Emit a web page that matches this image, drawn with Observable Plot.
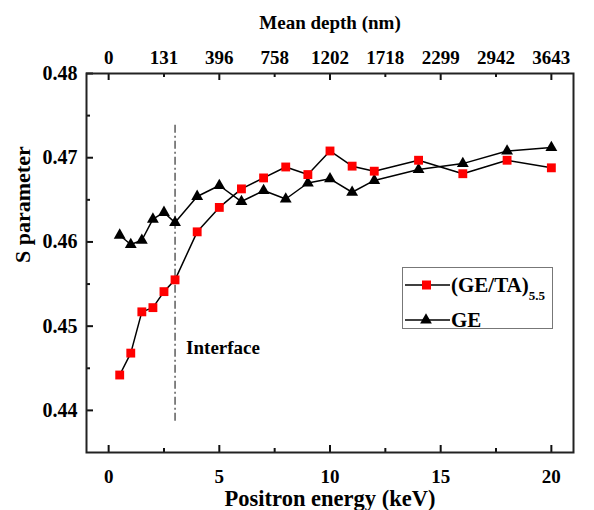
<!DOCTYPE html>
<html><head><meta charset="utf-8">
<script src="https://cdn.jsdelivr.net/npm/d3@7"></script>
<script src="https://cdn.jsdelivr.net/npm/@observablehq/plot@0.6"></script>
<style>
body{margin:0;background:#fff;}
#wrap{position:relative;width:594px;height:510px;overflow:hidden;}
#legend{position:absolute;left:402px;top:267px;overflow:visible;}
</style></head>
<body><div id="wrap"></div>
<script>
const energy = [0.5, 1, 1.5, 2, 2.5, 3, 4, 5, 6, 7, 8, 9, 10, 11, 12, 14, 16, 18, 20];
const sGETA = [0.4442, 0.4468, 0.4517, 0.4522, 0.4541, 0.4555, 0.4612, 0.4641, 0.4663, 0.4676, 0.4689, 0.4680, 0.4708, 0.4690, 0.4684, 0.4697, 0.4681, 0.4697, 0.4688];
const sGE   = [0.4608, 0.4597, 0.4602, 0.4627, 0.4635, 0.4623, 0.4654, 0.4667, 0.4648, 0.4661, 0.4651, 0.4670, 0.4675, 0.4659, 0.4673, 0.4686, 0.4693, 0.4708, 0.4712];
const seriesNames = ["(GE/TA)", "GE"];
const seriesSub = "5.5";
const xMajor = [0, 5, 10, 15, 20];
const xMinor = [2.5, 7.5, 12.5, 17.5];
const depthPos = [0, 2.5, 5, 7.5, 10, 12.5, 15, 17.5, 20];
const depthLabels = ["0", "131", "396", "758", "1202", "1718", "2299", "2942", "3643"];
const yMajor = [0.44, 0.45, 0.46, 0.47, 0.48];
const yMinor = [0.445, 0.455, 0.465, 0.475];
const interfaceLine = [{e: 3, s1: 0.4387, s2: 0.4740}];
const interfaceLabel = [{e: 3.5, s: 0.4474, text: "Interface"}];

const W = 594, H = 510, ML = 86, MR = 21, MT = 73, MB = 58;
const FW = W - ML - MR, FH = H - MT - MB;
const xDom = [-1, 21], yDom = [0.435, 0.48];
const font = "'Liberation Serif', 'Times New Roman', serif";
const d1 = energy.map((e, i) => ({e, s: sGETA[i]}));
const d2 = energy.map((e, i) => ({e, s: sGE[i]}));
// tick lengths (px) converted to data units so the rules pass through the scales
const yPx = px => px * (yDom[1] - yDom[0]) / FH;
const xPx = px => px * (xDom[1] - xDom[0]) / FW;
const tk = {stroke: "#111", strokeWidth: 2};

const chart = Plot.plot({
  width: W, height: H,
  marginLeft: ML, marginRight: MR, marginTop: MT, marginBottom: MB,
  style: {fontFamily: font, fontWeight: "bold", background: "#fff", color: "#000"},
  x: {domain: xDom},
  y: {domain: yDom},
  marks: [
    Plot.ruleX(interfaceLine, {x: "e", y1: "s1", y2: "s2", stroke: "#333", strokeWidth: 1.2, strokeDasharray: "8,3,2,3"}),
    Plot.line(d2, {x: "e", y: "s", stroke: "#000", strokeWidth: 1.5}),
    Plot.line(d1, {x: "e", y: "s", stroke: "#000", strokeWidth: 1.5}),
    Plot.dot(d2, {x: "e", y: "s", symbol: "triangle", r: 4.4, fill: "#000", stroke: "none"}),
    Plot.dot(d1, {x: "e", y: "s", symbol: "square", r: 5, fill: "#f00", stroke: "none"}),
    Plot.text(interfaceLabel, {x: "e", y: "s", text: "text", textAnchor: "start", fontSize: 19, fill: "#000"}),
    // inside ticks
    Plot.ruleX(xMajor, {x: d => d, y1: yDom[0], y2: yDom[0] + yPx(7), ...tk}),
    Plot.ruleX(xMinor, {x: d => d, y1: yDom[0], y2: yDom[0] + yPx(4), ...tk}),
    Plot.ruleX(xMajor, {x: d => d, y1: yDom[1], y2: yDom[1] - yPx(7), ...tk}),
    Plot.ruleX(xMinor, {x: d => d, y1: yDom[1], y2: yDom[1] - yPx(4), ...tk}),
    Plot.ruleY(yMajor, {y: d => d, x1: xDom[0], x2: xDom[0] + xPx(7), ...tk}),
    Plot.ruleY(yMinor, {y: d => d, x1: xDom[0], x2: xDom[0] + xPx(4), ...tk}),
    Plot.frame({stroke: "#222", strokeWidth: 2}),
    // tick labels
    Plot.axisX(xMajor, {anchor: "bottom", tickSize: 0, tickPadding: 17, fontSize: 19, label: null, tickFormat: d => String(d)}),
    Plot.axisX(depthPos, {anchor: "top", tickSize: 0, tickPadding: 10, fontSize: 19, label: null, tickFormat: d => depthLabels[depthPos.indexOf(d)]}),
    Plot.axisY(yMajor, {anchor: "left", tickSize: 0, tickPadding: 9, fontSize: 20, label: null, tickFormat: d => d.toFixed(2)}),
    // axis titles
    Plot.text(["Positron energy (keV)"], {frameAnchor: "bottom", dy: 46, fontSize: 22.5, lineAnchor: "middle", fill: "#000"}),
    Plot.text(["Mean depth (nm)"], {frameAnchor: "top", dy: -51, fontSize: 19, lineAnchor: "middle", fill: "#000"}),
    Plot.text(["S parameter"], {frameAnchor: "left", dx: -64, rotate: -90, fontSize: 22, lineAnchor: "middle", fill: "#000"})
  ]
});
const wrap = document.getElementById("wrap");
wrap.appendChild(chart);

// legend
const lg = d3.select(wrap).append("svg").attr("id", "legend").attr("width", 160).attr("height", 72)
  .style("font-family", font).style("font-weight", "bold");
lg.append("rect").attr("x", 0.5).attr("y", 0.5).attr("width", 150).attr("height", 61)
  .attr("fill", "#fff").attr("stroke", "#777").attr("stroke-width", 1);
const rows = [18, 53];
rows.forEach((ry, i) => {
  lg.append("line").attr("x1", 3).attr("x2", 48).attr("y1", ry).attr("y2", ry).attr("stroke", "#000").attr("stroke-width", 1.5);
  if (i === 0) {
    lg.append("rect").attr("x", 20).attr("y", ry - 4.5).attr("width", 9).attr("height", 9).attr("fill", "#f00");
  } else {
    lg.append("path").attr("d", d3.symbol(d3.symbolTriangle, 60)()).attr("transform", `translate(24,${ry})`).attr("fill", "#000");
  }
  const t = lg.append("text").attr("x", 49).attr("y", ry).attr("dy", "0.35em").attr("font-size", 21).attr("fill", "#000").text(seriesNames[i]);
  if (i === 0) t.append("tspan").attr("font-size", 13).attr("dy", "0.55em").text(seriesSub);
});
</script>
</body></html>
